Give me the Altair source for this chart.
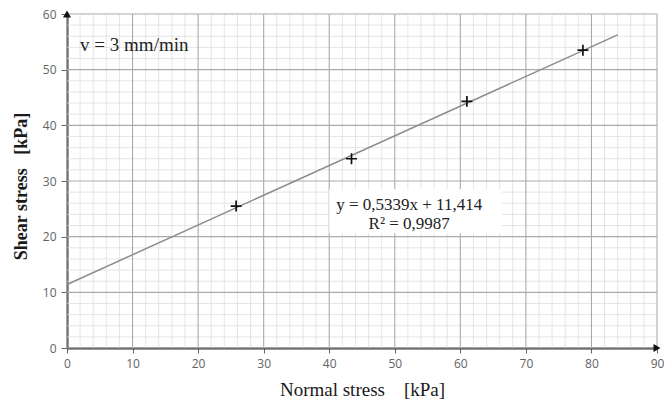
import altair as alt
import pandas as pd

# measured data points
normal_stress = [25.8, 43.4, 61.0, 78.7]
shear_stress = [25.5, 34.0, 44.3, 53.5]

# trend line (from the reported regression)
slope = 0.5339
intercept = 11.414
line_x = [0, 84]

x_domain = [0, 90]
y_domain = [0, 60]
x_major = list(range(0, 91, 10))
y_major = list(range(0, 61, 10))
x_minor = [v for v in range(0, 91, 2) if v % 10]
y_minor = [v for v in range(0, 61, 2) if v % 10]

speed_label = ["v = 3 mm/min"]
speed_pos = [2.0, 54.4]
eq_labels = ["y = 0,5339x + 11,414", "R² = 0,9987"]
eq_x = [52.2, 52.2]
eq_y = [25.6, 22.3]
eq_box = [40.0, 66.3, 20.6, 28.5]  # x1, x2, y1, y2

NB = "\u00a0"
pts = pd.DataFrame({"x": normal_stress, "y": shear_stress})
line_df = pd.DataFrame({"x": line_x, "y": [slope * v + intercept for v in line_x]})

xscale = alt.Scale(domain=x_domain, nice=False, zero=False)
yscale = alt.Scale(domain=y_domain, nice=False, zero=False)

label_font = "Open Sans"
xaxis = alt.Axis(
    values=x_major, grid=False,
    title=f"Normal stress{NB*4}[kPa]",
    titleFont="Liberation Serif", titleFontSize=19, titleFontWeight="normal",
    titleColor="#1a1a1a", titlePadding=11,
    labelFont=label_font, labelFontSize=12, labelColor="#636363", labelPadding=5,
    labelOverlap=False, labelFlush=False,
    tickColor="#666666", tickSize=5,
    domainColor="#333333", domainWidth=2,
)
yaxis = alt.Axis(
    values=y_major, grid=False,
    title=f"Shear stress{NB*3}[kPa]",
    titleFont="Liberation Serif", titleFontSize=18, titleFontWeight="bold",
    titleColor="#1a1a1a", titlePadding=12, titleY=172,
    labelFont=label_font, labelFontSize=12, labelColor="#636363", labelPadding=5,
    labelOverlap=False, labelFlush=False,
    tickColor="#666666", tickSize=6,
    domainColor="#333333", domainWidth=2,
)

def vrules(vals, color, width):
    return alt.Chart(pd.DataFrame({"v": vals})).mark_rule(color=color, strokeWidth=width).encode(
        x=alt.X("v:Q", scale=xscale, axis=xaxis)
    )

def hrules(vals, color, width):
    return alt.Chart(pd.DataFrame({"v": vals})).mark_rule(color=color, strokeWidth=width).encode(
        y=alt.Y("v:Q", scale=yscale, axis=yaxis)
    )

grid_minor_x = vrules(x_minor, "#dedede", 0.8)
grid_minor_y = hrules(y_minor, "#dedede", 0.8)
grid_major_x = vrules(x_major, "#ababab", 1.1)
grid_major_y = hrules(y_major, "#ababab", 1.1)

trend = alt.Chart(line_df).mark_line(color="#8c8c8c", strokeWidth=1.5).encode(
    x=alt.X("x:Q", scale=xscale), y=alt.Y("y:Q", scale=yscale)
)

box_df = pd.DataFrame({"x1": [eq_box[0]], "x2": [eq_box[1]], "y1": [eq_box[2]], "y2": [eq_box[3]]})
box = alt.Chart(box_df).mark_rect(color="white").encode(
    x=alt.X("x1:Q", scale=xscale), x2="x2:Q",
    y=alt.Y("y1:Q", scale=yscale), y2="y2:Q",
)

points = alt.Chart(pts).mark_point(
    shape="M-1,0L1,0M0,-1L0,1", filled=False, color="#111111", strokeWidth=1.7, size=120, opacity=1
).encode(x=alt.X("x:Q", scale=xscale), y=alt.Y("y:Q", scale=yscale))

speed_df = pd.DataFrame({"x": [speed_pos[0]], "y": [speed_pos[1]], "t": speed_label})
speed = alt.Chart(speed_df).mark_text(
    align="left", baseline="middle", font="Liberation Serif", fontSize=19, color="#222222"
).encode(x=alt.X("x:Q", scale=xscale), y=alt.Y("y:Q", scale=yscale), text="t:N")

eq_df = pd.DataFrame({"x": eq_x, "y": eq_y, "t": eq_labels})
eq = alt.Chart(eq_df).mark_text(
    align="center", baseline="middle", font="Liberation Serif", fontSize=17, color="#222222"
).encode(x=alt.X("x:Q", scale=xscale), y=alt.Y("y:Q", scale=yscale), text="t:N")

arrow_up = alt.Chart(pd.DataFrame({"x": [x_domain[0]], "y": [y_domain[1]]})).mark_point(
    shape="triangle-up", filled=True, color="#111111", size=65, opacity=1, clip=False
).encode(x=alt.X("x:Q", scale=xscale), y=alt.Y("y:Q", scale=yscale))
arrow_right = alt.Chart(pd.DataFrame({"x": [x_domain[1]], "y": [y_domain[0]]})).mark_point(
    shape="triangle-right", filled=True, color="#111111", size=65, opacity=1, clip=False
).encode(x=alt.X("x:Q", scale=xscale), y=alt.Y("y:Q", scale=yscale))

chart = alt.layer(
    grid_minor_x, grid_minor_y, grid_major_x, grid_major_y,
    trend, box, points, speed, eq, arrow_up, arrow_right
).properties(
    width=590, height=334,
    autosize=alt.AutoSizeParams(type="none"),
    padding={"left": 67, "top": 14, "right": 7, "bottom": 59},
    background="white",
).configure_view(stroke=None)

chart.save("out.html", embed_options={"renderer": "svg", "actions": False})
